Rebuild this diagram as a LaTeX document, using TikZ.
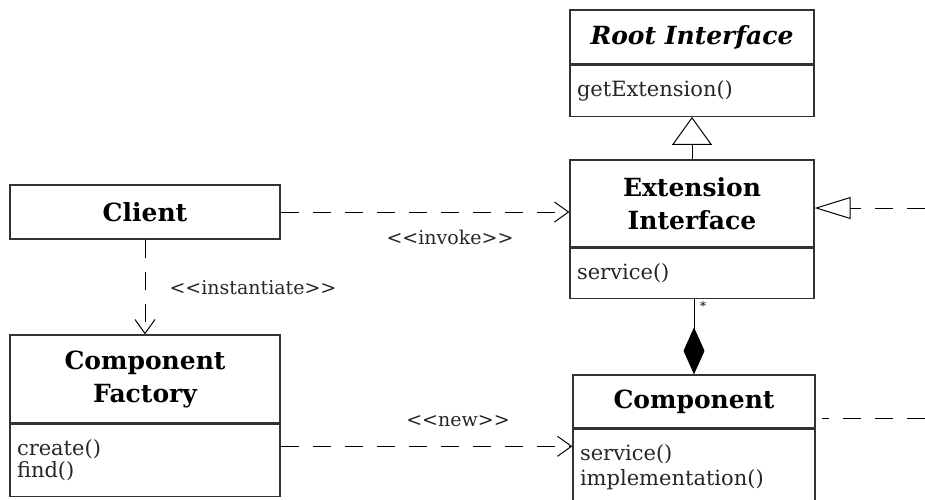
\documentclass[tikz,border=0pt]{standalone}
\usepackage{fontspec}
\setmainfont{DejaVu Serif}
\usetikzlibrary{arrows.meta}

\begin{document}
\begin{tikzpicture}[x=1pt,y=-1pt,
  cname/.style={draw=black!80, line width=1.3pt, minimum width=244pt, inner sep=0pt,
    align=center, font=\fontsize{25}{33}\selectfont\bfseries},
  cops/.style={draw=black!80, line width=1.3pt, text width=230pt, inner xsep=7pt, inner ysep=0pt,
    anchor=north, align=left, text=black!85, font=\fontsize{21}{25}\selectfont},
  dep/.style={line width=1pt, dash pattern=on 18pt off 14pt, -{Straight Barb[length=14pt,width=20pt]}},
  stereo/.style={text=black!85, font=\fontsize{19}{20}\selectfont}]
  \useasboundingbox (0,0) rectangle (925,499);

  \node[cname, minimum height=54pt] (rootname) at (692,37) {\itshape Root Interface};
  \node[cops, minimum height=51pt] (rootops) at (rootname.south) {getExtension()};
  \node[cname, minimum height=87pt] (extname) at (692,203.5) {Extension\\Interface};
  \node[cops, minimum height=50pt] (extops) at (extname.south) {service()};
  \node[cname, minimum width=242pt, minimum height=53pt] (comp) at (694,401.5) {Component};
  \node[cops, text width=228pt, minimum height=76pt] (compops) at (comp.south) {service()\\implementation()};

  \node[cname, minimum width=270pt, minimum height=54pt] (client) at (145,212) {Client};
  \node[cname, minimum width=270pt, minimum height=88pt] (factory) at (145,379) {Component\\Factory};
  \node[cops, text width=256pt, minimum height=72pt, font=\fontsize{21}{22}\selectfont] (factops) at (factory.south) {create()\\find()};

  \draw[line width=1pt, -{Triangle[open, length=28pt, width=40pt]}] (extname.north) -- (rootops.south);
  \draw[line width=1pt, {Diamond[length=47pt, width=21pt]}-] (comp.north) -- (comp.north |- extops.south);
  \node[font=\fontsize{12}{12}\selectfont] (mult) at (703,306) {*};

  \draw[dep] (client.east) -- (client.east -| extname.west);
  \node[stereo] (invoke) at (450,237) {<{}<invoke>{}>};
  \draw[dep] (client.south) -- (factory.north);
  \node[stereo, anchor=west] (inst) at (166,288) {<{}<instantiate>{}>};
  \draw[dep] ([yshift=14pt]factops.east) -- ([yshift=14pt]factops.east -| compops.west);
  \node[stereo] (new) at (458,421) {<{}<new>{}>};

  \coordinate (realend) at (925,208);
  \draw[line width=1pt, dash pattern=on 18pt off 14pt, -{Triangle[open, length=36pt, width=22pt]}] (realend) -- (realend -| extname.east);
  \coordinate (compend) at (925,418);
  \draw[line width=1pt, dash pattern=on 18pt off 14pt] (compend) -- ([xshift=6pt]compend -| comp.east);
\end{tikzpicture}
\end{document}
